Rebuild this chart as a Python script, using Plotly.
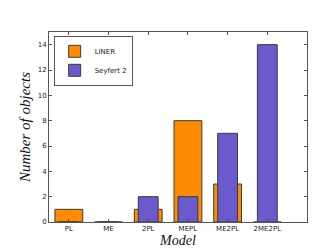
import plotly.graph_objects as go

models = ["PL", "ME", "2PL", "MEPL", "ME2PL", "2ME2PL"]
liner = [1, 0, 1, 8, 3, 0]
seyfert = [0, 0, 2, 2, 7, 14]
y_ticks = [0, 2, 4, 6, 8, 10, 12, 14]

x = list(range(len(models)))

fig = go.Figure()
fig.add_trace(go.Bar(
    x=x, y=liner, width=0.7, name="LINER",
    marker=dict(color="#FF8C00", line=dict(color="#3a3a3a", width=1)),
))
fig.add_trace(go.Bar(
    x=x, y=seyfert, width=0.5, name="Seyfert 2",
    marker=dict(color="#6A5ACD", line=dict(color="#3a3a3a", width=1)),
))

axis_common = dict(
    showline=True, linecolor="#555555", linewidth=1, mirror="ticks",
    ticks="inside", ticklen=3, tickcolor="#555555", showgrid=False, zeroline=False,
    tickfont=dict(family="DejaVu Sans", size=7, color="#222222"),
)

fig.update_layout(
    width=332, height=249,
    margin=dict(l=41, r=33, t=24, b=25),
    barmode="overlay",
    plot_bgcolor="white", paper_bgcolor="white",
    showlegend=True,
    legend=dict(
        x=0.018, y=0.98, xanchor="left", yanchor="top",
        bordercolor="#555555", borderwidth=1, bgcolor="white",
        font=dict(family="DejaVu Sans", size=7, color="#222222"),
        tracegroupgap=0, itemwidth=30, traceorder="normal",
    ),
    xaxis=dict(
        axis_common, range=[-0.5, 6.0], tickmode="array",
        tickvals=x, ticktext=models,
        title=dict(text="Model", standoff=2,
                   font=dict(family="Liberation Serif", size=14, color="#111111", style="italic")),
    ),
    yaxis=dict(
        axis_common, range=[0, 15], tickmode="array", tickvals=y_ticks,
        title=dict(text="Number of objects", standoff=3,
                   font=dict(family="Liberation Serif", size=15, color="#111111", style="italic")),
    ),
)

fig.write_html("out.html")
